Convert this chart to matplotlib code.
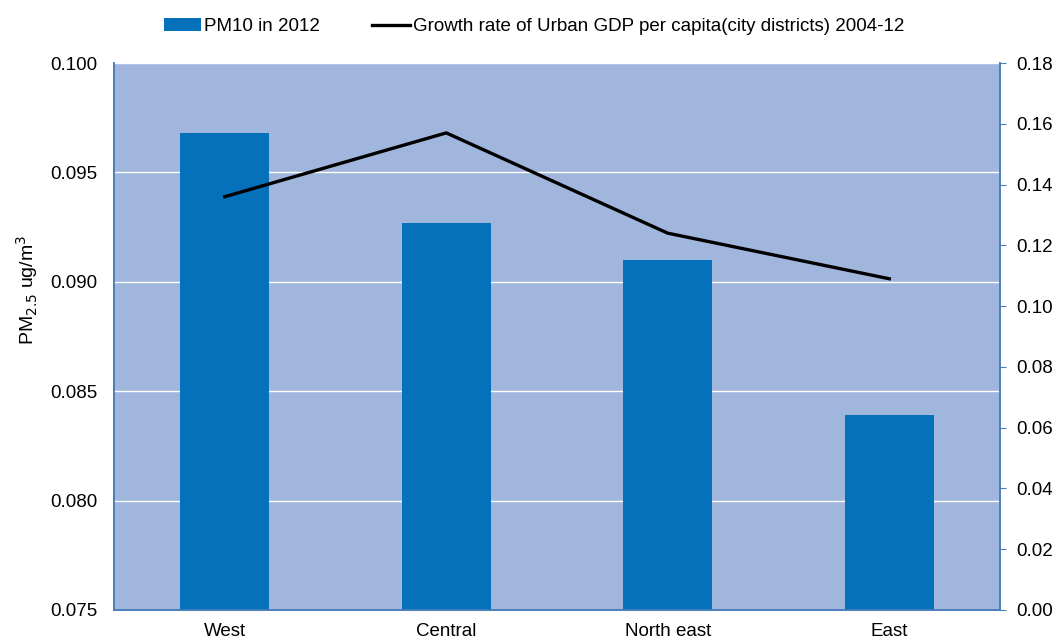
import matplotlib
matplotlib.use('Agg')
import matplotlib.pyplot as plt
import numpy as np

plt.rcParams['font.family'] = ['Liberation Sans', 'DejaVu Sans']

regions = ['West', 'Central', 'North east', 'East']
pm_2012 = [0.0968, 0.0927, 0.0910, 0.0839]
gdp_growth = [0.136, 0.157, 0.124, 0.109]

bar_color = '#0571bb'
bg_color = '#a0b6dc'
axis_color = '#4a7ebb'

fig = plt.figure(figsize=(10.55, 6.4), dpi=100)
ax = fig.add_axes([114 / 1055, 30 / 640, 886 / 1055, 547 / 640])
ax.set_facecolor(bg_color)

x = np.arange(len(regions))
bars = ax.bar(x, pm_2012, width=0.4, color=bar_color, zorder=3,
              label='PM10 in 2012')
ax.set_ylim(0.075, 0.100)
ax.set_xlim(-0.5, len(regions) - 0.5)
ax.set_yticks(np.arange(0.075, 0.1001, 0.005))
ax.set_yticklabels(['%.3f' % v for v in np.arange(0.075, 0.1001, 0.005)])
ax.grid(axis='y', color='white', linewidth=1.0, zorder=1)
ax.set_axisbelow(True)
ax.set_xticks(x)
ax.set_xticklabels(regions, fontsize=13.5)
ax.tick_params(axis='x', length=0, pad=9)
ax.tick_params(axis='y', length=0, labelsize=13.5, pad=12)
ax.set_ylabel('PM$_{2.5}$ ug/m$^3$', fontsize=14)
ax.yaxis.set_label_coords(-0.083, 0.585)

ax.spines['top'].set_visible(False)
for side in ['left', 'bottom', 'right']:
    ax.spines[side].set_color(axis_color)
    ax.spines[side].set_linewidth(1.2)

ax2 = ax.twinx()
line, = ax2.plot(x, gdp_growth, color='black', linewidth=2.4, zorder=4,
                 label='Growth rate of Urban GDP per capita(city districts) 2004-12')
ax2.set_ylim(0, 0.18)
ax2.set_yticks(np.arange(0, 0.181, 0.02))
ax2.set_yticklabels(['%.2f' % v for v in np.arange(0, 0.181, 0.02)])
ax2.tick_params(axis='y', direction='out', length=4, color=axis_color,
                labelsize=13.5, pad=8)
ax2.spines['top'].set_visible(False)
for side in ['left', 'bottom', 'right']:
    ax2.spines[side].set_color(axis_color)
    ax2.spines[side].set_linewidth(1.2)

fig.legend(handles=[bars, line], loc='upper center', ncol=2, frameon=False,
           bbox_to_anchor=(0.506, 0.998), fontsize=13.5, handlelength=2.0,
           handletextpad=0.15, columnspacing=2.8)

fig.savefig('out.png', dpi=100)
